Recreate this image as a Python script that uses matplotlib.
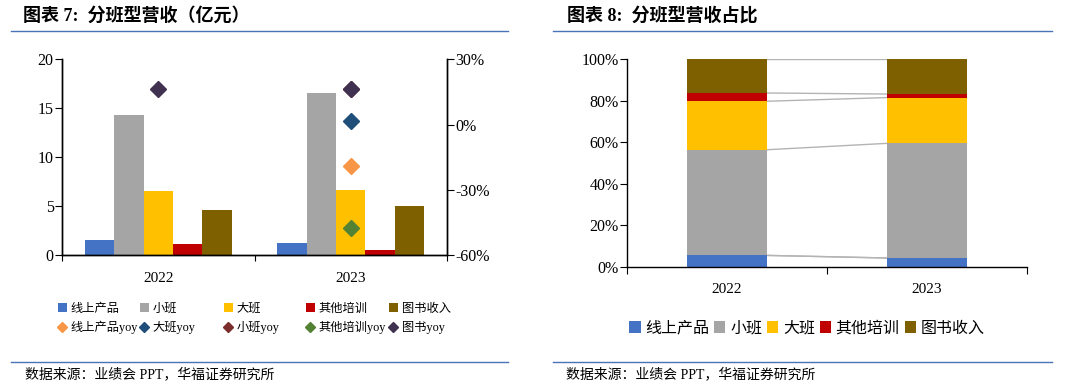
import matplotlib
matplotlib.use("Agg")
import matplotlib.pyplot as plt
import numpy as np
from matplotlib.lines import Line2D
from matplotlib.patches import Patch

# ---------------- data ----------------
years = ["2022", "2023"]
series = ["线上产品", "小班", "大班", "其他培训", "图书收入"]
rev_online = [1.53, 1.26]
rev_small = [14.3, 16.6]
rev_large = [6.56, 6.63]
rev_other = [1.12, 0.51]
rev_books = [4.56, 5.03]

yoy_names = ["线上产品yoy", "大班yoy", "小班yoy", "其他培训yoy", "图书yoy"]
yoy_online = [np.nan, -19.0]
yoy_large = [np.nan, 1.7]
yoy_small = [np.nan, 16.4]
yoy_other = [np.nan, -47.7]
yoy_books = [16.4, 16.4]

left_ticks = [0, 5, 10, 15, 20]
right_ticks = [-60, -30, 0, 30]
share_ticks = [0, 20, 40, 60, 80, 100]

# ---------------- style ----------------
bar_colors = ["#4472C4", "#A5A5A5", "#FFC000", "#C00000", "#7F6000"]
yoy_colors = ["#F79646", "#1F4E79", "#7B2C2C", "#548235", "#403151"]
SERIF = ["Liberation Serif", "Noto Sans CJK SC"]
CJK = ["Noto Sans CJK SC", "DejaVu Sans"]
title_blue = "#4A72B8"

plt.rcParams["font.family"] = SERIF
plt.rcParams["axes.linewidth"] = 1.0

W, H = 1080, 391
fig = plt.figure(figsize=(W / 100, H / 100), dpi=100)


def fx(px):
    return px / W


def fy(py):
    return 1 - py / H


# titles and rules
fig.text(fx(23), fy(16), "图表 7:  分班型营收（亿元）", fontsize=13, fontweight="bold",
         family=SERIF, va="center", ha="left")
fig.text(fx(567), fy(16), "图表 8:  分班型营收占比", fontsize=13, fontweight="bold",
         family=SERIF, va="center", ha="left")
for x0, x1 in [(11, 508), (553, 1052)]:
    fig.add_artist(Line2D([fx(x0), fx(x1)], [fy(31), fy(31)], color=title_blue, lw=1.0))
    fig.add_artist(Line2D([fx(x0), fx(x1)], [fy(361.5), fy(361.5)], color=title_blue, lw=1.0))
fig.text(fx(25), fy(374), "数据来源：业绩会 PPT，华福证券研究所", fontsize=10, family=SERIF,
         va="center", ha="left")
fig.text(fx(566), fy(374), "数据来源：业绩会 PPT，华福证券研究所", fontsize=10, family=SERIF,
         va="center", ha="left")

# ---------------- left chart ----------------
ax = fig.add_axes([fx(62), fy(255), fx(447 - 62), (255 - 59.3) / H])
x = np.arange(len(years))
revs = [rev_online, rev_small, rev_large, rev_other, rev_books]
bw = 0.153
for i, (vals, c) in enumerate(zip(revs, bar_colors)):
    ax.bar(x + (i - 2) * bw, vals, width=bw, color=c, zorder=2)
ax.set_xlim(-0.5, 1.5)
ax.set_ylim(0, 20)
ax.set_yticks(left_ticks)
ax.set_xticks([-0.5, 0.5, 1.5])
ax.set_xticklabels([])
ax.set_xticks(x, minor=True)
ax.set_xticklabels(years, minor=True)
ax.tick_params(axis="x", which="major", direction="out", length=4)
ax.tick_params(axis="x", which="minor", length=0, pad=12, labelsize=11)
ax.tick_params(axis="y", direction="out", length=5, pad=1, labelsize=11.5)
ax.spines["top"].set_visible(False)

ax2 = ax.twinx()
yoys = [yoy_online, yoy_large, yoy_small, yoy_other, yoy_books]
for vals, c in zip(yoys, yoy_colors):
    ax2.plot(x, vals, linestyle="none", marker="D", markersize=8.5, color=c, zorder=3)
ax2.set_ylim(-60, 30)
ax2.set_yticks(right_ticks)
ax2.set_yticklabels([f"{v}%" for v in right_ticks])
ax2.tick_params(axis="y", direction="out", length=5, pad=1, labelsize=11.5)
ax2.spines["top"].set_visible(False)

# left legend: five columns placed at fixed positions
col_x = [58, 140, 224, 306, 389]
for j in range(5):
    h = [Patch(facecolor=bar_colors[j]),
         Line2D([], [], linestyle="none", marker="D", markersize=5, color=yoy_colors[j])]
    labs = [series[j], yoy_names[j]]
    fig.legend(h, labs, loc="upper left", bbox_to_anchor=(fx(col_x[j]), fy(303)),
               frameon=False, prop={"family": SERIF, "size": 8.8}, handlelength=0.7,
               handleheight=0.8, handletextpad=0.35, labelspacing=0.5, borderpad=0,
               borderaxespad=0)

# ---------------- right chart ----------------
bx = fig.add_axes([fx(627), fy(266.7), fx(1027 - 627), (266.7 - 59.3) / H])
arr = np.array(revs)
shares = arr / arr.sum(axis=0) * 100
bottom = np.zeros(len(years))
bw2 = 0.4
for vals, c in zip(shares, bar_colors):
    bx.bar(x, vals, bottom=bottom, width=bw2, color=c, zorder=2)
    bottom = bottom + vals
    bx.plot([x[0] + bw2 / 2, x[1] - bw2 / 2], [bottom[0], bottom[1]], color="#B4B4B4",
            lw=1.0, zorder=1)
bx.plot([x[0] + bw2 / 2, x[1] - bw2 / 2], [shares[0][0], shares[0][1]], color="#B4B4B4",
        lw=1.0, zorder=1)
bx.set_xlim(-0.5, 1.5)
bx.set_ylim(0, 100)
bx.set_yticks(share_ticks)
bx.set_yticklabels([f"{v}%" for v in share_ticks])
bx.set_xticks([-0.5, 0.5, 1.5])
bx.set_xticklabels([])
bx.set_xticks(x, minor=True)
bx.set_xticklabels(years, minor=True)
bx.tick_params(axis="x", which="major", direction="out", length=5)
bx.tick_params(axis="x", which="minor", length=0, pad=12, labelsize=11)
bx.tick_params(axis="y", direction="out", length=5, pad=1, labelsize=11.5)
for s in ["top", "right"]:
    bx.spines[s].set_visible(False)

handles = [Patch(facecolor=c) for c in bar_colors]
fig.legend(handles, series, loc="center", bbox_to_anchor=(fx(807), fy(328)), ncol=5,
           frameon=False, prop={"family": CJK, "size": 11.5}, handlelength=0.7,
           handleheight=0.7, handletextpad=0.3, columnspacing=0.3, borderpad=0)

fig.savefig("out.png", dpi=100)
